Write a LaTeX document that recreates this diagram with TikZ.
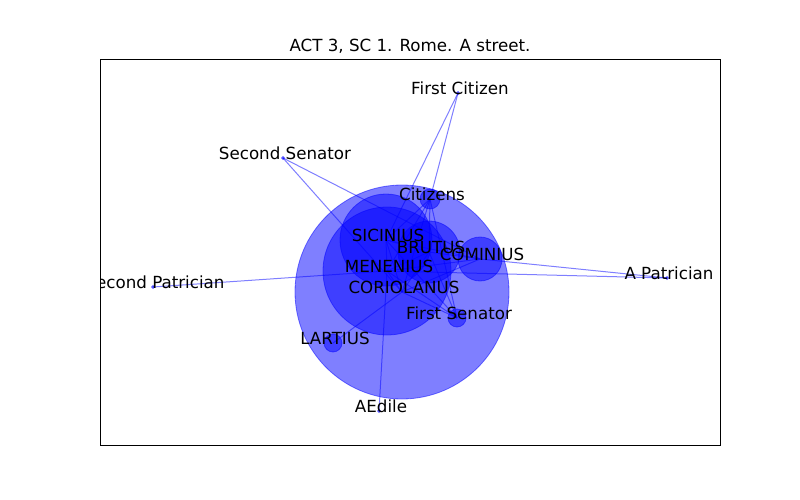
\documentclass[tikz,border=0pt]{standalone}
\usepackage{fontspec}
\setmainfont{DejaVu Sans}
\usetikzlibrary{backgrounds}
\begin{document}
\begin{tikzpicture}[x=1pt,y=-1pt,
  actor/.style={circle,inner sep=0pt,fill=blue,fill opacity=0.5,draw=blue,draw opacity=0.5,line width=0.8pt},
  link/.style={draw=blue,opacity=0.5,line width=1pt},
  lbl/.style={anchor=base,inner sep=0pt,font=\fontsize{16.7}{20}\selectfont},
  frame/.style={draw=black,line width=1pt}]
\useasboundingbox (0,0) rectangle (800,500);
% nodes
\node[actor,minimum size=214pt] (cor) at (402,292) {};
\node[actor,minimum size=128pt] (men) at (387,271) {};
\node[actor,minimum size=92pt] (sic) at (386,240) {};
\node[actor,minimum size=62pt] (bru) at (429,252) {};
\node[actor,minimum size=44pt] (com) at (480,259) {};
\node[actor,minimum size=20pt] (cit) at (430,199) {};
\node[actor,minimum size=18pt] (fse) at (457,318) {};
\node[actor,minimum size=18pt] (lar) at (333,343) {};
\node[actor,minimum size=3pt] (fci) at (458,93) {};
\node[actor,minimum size=3pt] (sse) at (283,158) {};
\node[actor,minimum size=3pt] (aed) at (379,411) {};
\node[actor,minimum size=3pt] (spa) at (153,287) {};
\node[actor,minimum size=3pt] (apa) at (667,278) {};
% edges
\begin{pgfonlayer}{background}
\foreach \a/\b in {cor/men,cor/sic,cor/bru,cor/com,men/sic,men/bru,men/com,sic/bru,sic/com,bru/com,
  cit/sic,cit/bru,cit/cor,cit/men,cit/fse,
  fse/cor,fse/sic,fse/bru,fse/men,
  lar/cor,aed/men,fci/sic,fci/cit,sse/cor,sse/com,spa/men,apa/men,apa/com}
  \draw[link] (\a.center) -- (\b.center);
\end{pgfonlayer}
% frame and title
\draw[frame] (100,60) rectangle (720,445);
\node[lbl] (title) at (410,52) {ACT 3, SC 1. Rome. A street.};
% labels
\begin{scope}
\clip (100,60) rectangle (720,445);
\node[lbl] (tcor) at ([xshift=2pt,yshift=-1.5pt]cor.center) {CORIOLANUS};
\node[lbl] (tmen) at ([xshift=2pt,yshift=-1.5pt]men.center) {MENENIUS};
\node[lbl] (tsic) at ([xshift=2pt,yshift=-1.5pt]sic.center) {SICINIUS};
\node[lbl] (tbru) at ([xshift=2pt,yshift=-1.5pt]bru.center) {BRUTUS};
\node[lbl] (tcom) at ([xshift=2pt,yshift=-1.5pt]com.center) {COMINIUS};
\node[lbl] (tcit) at ([xshift=2pt,yshift=-1.5pt]cit.center) {Citizens};
\node[lbl] (tfse) at ([xshift=2pt,yshift=-1.5pt]fse.center) {First Senator};
\node[lbl] (tlar) at ([xshift=2pt,yshift=-1.5pt]lar.center) {LARTIUS};
\node[lbl] (tfci) at ([xshift=2pt,yshift=-1.5pt]fci.center) {First Citizen};
\node[lbl] (tsse) at ([xshift=2pt,yshift=-1.5pt]sse.center) {Second Senator};
\node[lbl] (taed) at ([xshift=2pt,yshift=-1.5pt]aed.center) {AEdile};
\node[lbl] (tspa) at ([xshift=2pt,yshift=-1.5pt]spa.center) {Second Patrician};
\node[lbl] (tapa) at ([xshift=2pt,yshift=-1.5pt]apa.center) {A Patrician};
\end{scope}
\end{tikzpicture}
\end{document}
